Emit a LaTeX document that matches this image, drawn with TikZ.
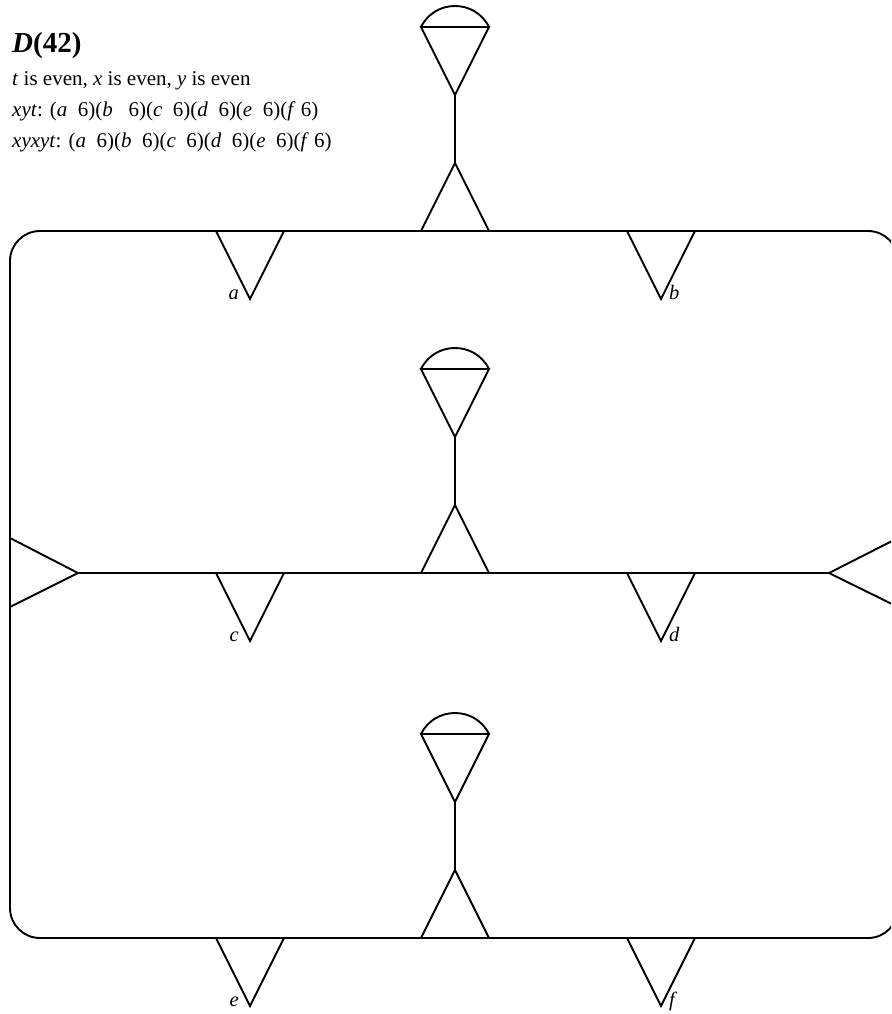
\documentclass[tikz,border=0pt]{standalone}
\usepackage{fontspec}
\setmainfont{Liberation Serif}

\begin{document}
\begin{tikzpicture}[
    x=1pt, y=-1pt,
    edge/.style  = {draw=black, line width=1.9pt},
    legname/.style = {font=\fontsize{20.5}{20.5}\selectfont\itshape, inner sep=0pt},
    info/.style  = {font=\fontsize{21}{30}\selectfont, anchor=base west, inner sep=0pt},
]
\useasboundingbox (0,0) rectangle (891,1014);
\clip (0,0) rectangle (891,1014);

%% ---- Positions ----
\def\xL{10}    % left side of frame
\def\xR{898}   % right side of frame (runs off the page)
\def\xM{455}   % stems
\def\xA{250}   % left legs
\def\xB{661}   % right legs
\def\yT{231}   % top rail
\def\yC{573}   % middle rail
\def\yD{938}   % bottom rail

%% ---- Frame ----
\draw[edge, rounded corners=30pt] (\xL,\yT) rectangle (\xR,\yD);

%% ---- Middle rail and side wedges ----
\coordinate (wl) at (78,\yC);
\coordinate (wr) at (829,\yC);
\draw[edge] (\xL,538) -- (wl) -- (\xL,607);
\draw[edge] (\xR,538) -- (wr) -- (\xR,607);
\draw[edge] (wl) -- (wr);

%% ---- Stems, one on each rail ----
\foreach \y/\n in {\yT/1, \yC/2, \yD/3}{
    \coordinate (foot\n) at (\xM,\y-68);
    \coordinate (head\n) at (\xM,\y-136);
    \draw[edge] (\xM-34,\y) -- (foot\n) -- (\xM+34,\y);
    \draw[edge] (foot\n) -- (head\n);
    \draw[edge] (\xM-34,\y-204) -- (\xM+34,\y-204) -- (head\n) -- cycle;
    \draw[edge] (\xM-34,\y-204) .. controls (\xM-20,\y-232) and (\xM+20,\y-232) .. (\xM+34,\y-204);
}

%% ---- Legs below each rail ----
\foreach \y/\p/\q in {\yT/a/b, \yC/c/d, \yD/e/f}{
    \draw[edge] (\xA-34,\y) -- (\xA,\y+68) coordinate (\p) -- (\xA+34,\y);
    \draw[edge] (\xB-34,\y) -- (\xB,\y+68) coordinate (\q) -- (\xB+34,\y);
    \node[legname, anchor=base east] (n\p) at ([xshift=-11]\p) {\p};
    \node[legname, anchor=base west] (n\q) at ([xshift=8]\q) {\q};
}

%% ---- Text block (top left) ----
\node[font=\fontsize{29}{29}\selectfont\bfseries, anchor=base west, inner sep=0pt]
    (title) at (12,53) {\textit{D}(42)};
\node[info] (parity) at (12,86)
    {\textit{t} is even, \textit{x} is even, \textit{y} is even};
\node[info] (xyt) at (12,117)
    {\textit{xyt}: (\textit{a}\ \ 6)(\textit{b}\ \ \ 6)(\textit{c}\ \ 6)(\textit{d}\ \ 6)(\textit{e}\ \ 6)(\textit{f} 6)};
\node[info] (xyxyt) at (12,147)
    {\textit{xyxyt}: (\textit{a}\ \ 6)(\textit{b}\ \ 6)(\textit{c}\ \ 6)(\textit{d}\ \ 6)(\textit{e}\ \ 6)(\textit{f} 6)};

\end{tikzpicture}
\end{document}
